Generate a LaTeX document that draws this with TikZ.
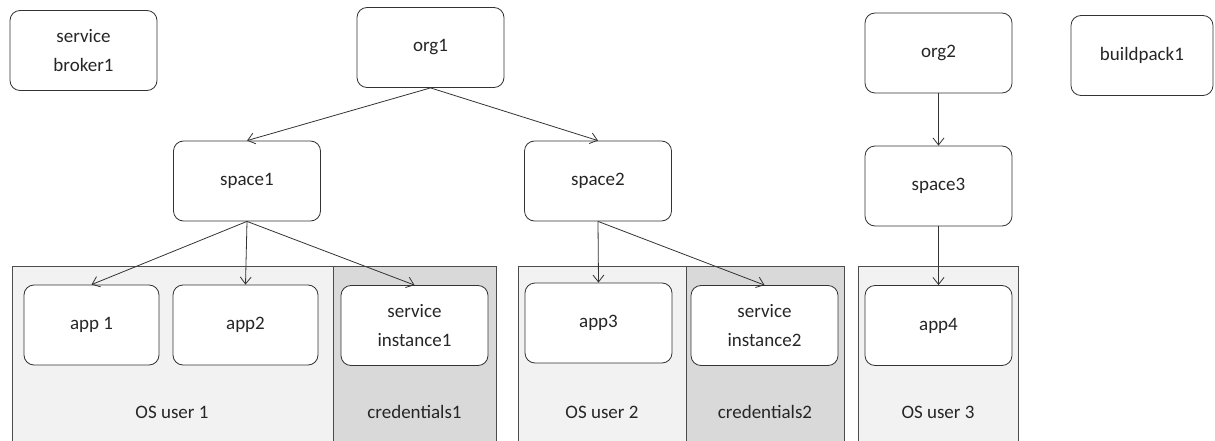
\documentclass[tikz,border=0pt]{standalone}
\usepackage{fontspec}
\setmainfont{Carlito}
\usetikzlibrary{arrows.meta, positioning}
\tikzset{
  cx/.style = {draw=black!80, fill=white, text=black!85, rounded corners=10pt,
    minimum width=147pt, minimum height=80pt, inner sep=2pt, align=center,
    line width=0.8pt, font=\fontsize{19}{29}\selectfont},
  usr/.style = {draw=black!70, fill=black!5, line width=0.8pt},
  cred/.style = {draw=black!70, fill=black!15, line width=0.8pt},
  rot/.style = {text=black!85, font=\fontsize{19}{29}\selectfont},
  seta/.style = {-{Straight Barb[length=7pt, width=11pt]}, draw=black!80,
    line width=0.8pt}
}

\begin{document}
\begin{tikzpicture}[x=1pt, y=-1pt]
  \clip (0,0) rectangle (1215,441);
  % OS users and credentials
  \draw [usr] (12,266) rectangle (333,450);
  \draw [cred] (333,266) rectangle (496,450);
  \draw [usr] (518,266) rectangle (686,450);
  \draw [cred] (686,266) rectangle (844,450);
  \draw [usr] (858,266) rectangle (1018,450);
  \node [rot] (u1) at (172,412) {OS user 1};
  \node [rot] (c1) at (414.5,412) {credentials1};
  \node [rot] (u2) at (602,412) {OS user 2};
  \node [rot] (c2) at (765,412) {credentials2};
  \node [rot] (u3) at (938,412) {OS user 3};
  % top row
  \node [cx] (sb) at (83.5,50.5) {service\\broker1};
  \node [cx] (o1) at (430.5,47.5) {org1};
  \node [cx] (o2) at (938.5,53) {org2};
  \node [cx, minimum width=142pt] (bp) at (1142,55.5) {buildpack1};
  % spaces
  \node [cx] (s1) at (247,181) {space1};
  \node [cx] (s2) at (598,181) {space2};
  \node [cx] (s3) at (938.5,186) {space3};
  % apps and service instances
  \node [cx, minimum width=135pt] (a1) at (91.5,325) {app 1};
  \node [cx, minimum width=145pt] (a2) at (245.5,325) {app2};
  \node [cx] (si1) at (414.5,325.5) {service\\instance1};
  \node [cx] (a3) at (598.5,323) {app3};
  \node [cx] (si2) at (764.5,325.5) {service\\instance2};
  \node [cx] (a4) at (938.5,325.5) {app4};
  \draw [seta] (o1.south) -- (s1.north);
  \draw [seta] (o1.south) -- (s2.north);
  \draw [seta] (o2.south) -- (s3.north);
  \draw [seta] (s1.south) -- (a1.north);
  \draw [seta] (s1.south) -- (a2.north);
  \draw [seta] (s1.south) -- (si1.north);
  \draw [seta] (s2.south) -- (a3.north);
  \draw [seta] (s2.south) -- (si2.north);
  \draw [seta] (s3.south) -- (a4.north);
\end{tikzpicture}
\end{document}
